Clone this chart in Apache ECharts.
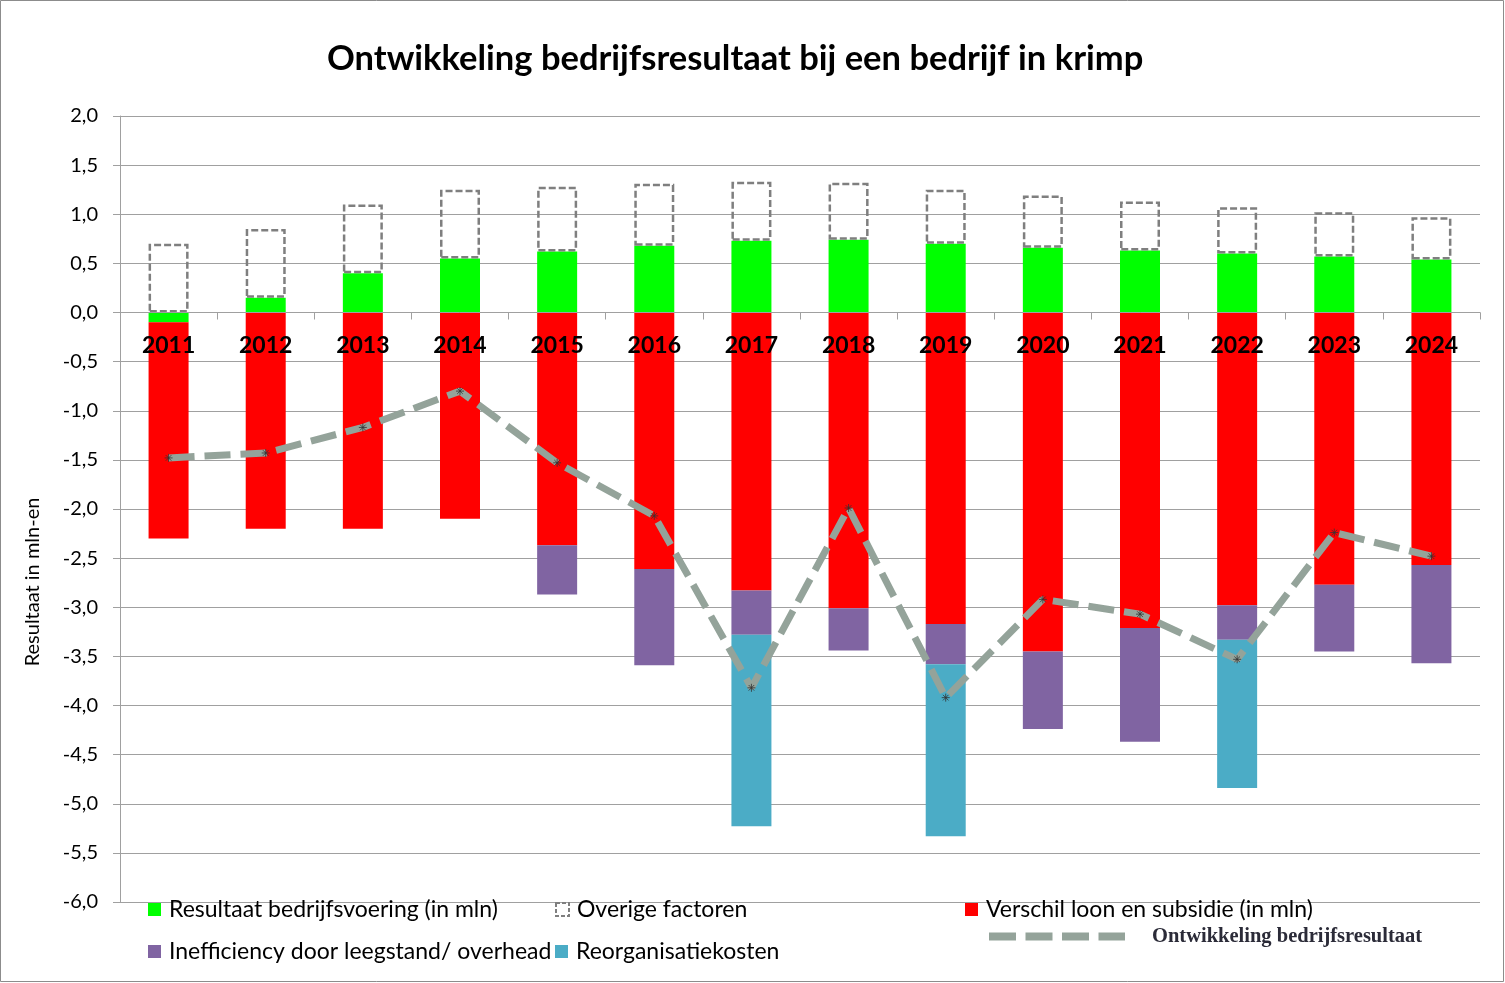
<!DOCTYPE html>
<html>
<head>
<meta charset="utf-8">
<script src="https://cdn.jsdelivr.net/npm/echarts@6/dist/echarts.min.js"></script>
<style>
html,body{margin:0;padding:0;background:#fff;}
#main{width:1505px;height:983px;}
</style>
</head>
<body>
<div id="main"></div>
<script>
const categories = ['2011','2012','2013','2014','2015','2016','2017','2018','2019','2020','2021','2022','2023','2024'];
const resultaat = [-0.10, 0.15, 0.40, 0.55, 0.62, 0.68, 0.73, 0.74, 0.70, 0.66, 0.63, 0.60, 0.57, 0.54];
const overige = [0.70, 0.70, 0.70, 0.70, 0.66, 0.63, 0.60, 0.58, 0.55, 0.53, 0.50, 0.47, 0.45, 0.43];
const verschil = [-2.20, -2.20, -2.20, -2.10, -2.37, -2.61, -2.83, -3.01, -3.17, -3.45, -3.21, -2.98, -2.77, -2.57];
const inefficiency = [null, null, null, null, -0.50, -0.98, -0.45, -0.43, -0.41, -0.79, -1.16, -0.35, -0.68, -1.00];
const reorganisatie = [null, null, null, null, null, null, -1.95, null, -1.75, null, null, -1.51, null, null];
const ontwikkeling = [-1.48, -1.43, -1.17, -0.80, -1.53, -2.07, -3.82, -1.99, -3.92, -2.92, -3.07, -3.53, -2.24, -2.48];
const yMin = -6, yMax = 2, yStep = 0.5;

const names = {
  green: 'Resultaat bedrijfsvoering (in mln)',
  over: 'Overige factoren',
  red: 'Verschil loon en subsidie (in mln)',
  purple: 'Inefficiency door leegstand/ overhead',
  blue: 'Reorganisatiekosten',
  line: 'Ontwikkeling bedrijfsresultaat'
};

const FONT = 'Lato, "Open Sans", sans-serif';
const W = 1505, H = 983;
const gridTop = 116, gridBottom = 81;
const gridH = H - gridTop - gridBottom;
// place the category axis on the zero line
const xOffset = -gridH * (0 - yMin) / (yMax - yMin);

const chart = echarts.init(document.getElementById('main'), null, {renderer: 'canvas'});

const legendText = {color: '#000', fontSize: 23, fontFamily: FONT, padding: [0, 0, 0, 3]};
function sqLegend(name, left, top, extra) {
  return Object.assign({show: true, left: left, top: top, padding: 0, itemWidth: 13, itemHeight: 13,
    icon: 'rect', data: [name], textStyle: legendText, selectedMode: false}, extra || {});
}

const option = {
  backgroundColor: '#fff',
  animation: false,
  title: {
    text: 'Ontwikkeling bedrijfsresultaat bij een bedrijf in krimp',
    left: 322, top: 36,
    textStyle: {fontSize: 34.5, fontWeight: 'bold', color: '#000', fontFamily: FONT}
  },
  grid: {left: 120, right: 25, top: gridTop, bottom: gridBottom, containLabel: false},
  legend: [
    sqLegend(names.green, 148, 898),
    sqLegend(names.over, 555, 898, {itemStyle: {borderType: [4, 2], borderWidth: 2, borderColor: '#7f7f7f'}}),
    sqLegend(names.red, 965, 898),
    sqLegend(names.purple, 148, 940),
    sqLegend(names.blue, 555, 940),
    {show: true, left: 985, top: 926, padding: 0, itemWidth: 136, itemHeight: 16,
      data: [names.line], selectedMode: false,
      lineStyle: {color: '#94a39a', width: 8, type: [27, 9.5], cap: 'butt'},
      itemStyle: {opacity: 0},
      textStyle: {color: '#2b2b38', fontSize: 20.5, fontWeight: 'bold', fontFamily: '"Liberation Serif", serif', padding: [0, 0, 0, 22]}}
  ],
  xAxis: {
    type: 'category',
    data: categories,
    z: 10,
    offset: xOffset,
    axisLine: {onZero: false, lineStyle: {color: '#a0a0a0', width: 1}},
    axisTick: {show: true, length: 7, lineStyle: {color: '#a0a0a0'}},
    axisLabel: {margin: 22, fontSize: 23, fontWeight: 'bold', color: '#000', fontFamily: FONT}
  },
  yAxis: {
    type: 'value',
    min: yMin, max: yMax, interval: yStep,
    axisLine: {show: true, lineStyle: {color: '#a0a0a0', width: 1}},
    axisTick: {show: true, length: 7, lineStyle: {color: '#a0a0a0'}},
    splitLine: {show: true, lineStyle: {color: '#a0a0a0', width: 1}},
    axisLabel: {margin: 22, fontSize: 20, color: '#000', fontFamily: FONT,
      formatter: v => v.toFixed(1).replace('.', ',')}
  },
  graphic: [
    {type: 'rect', shape: {x: 0.5, y: 0.5, width: W - 2, height: H - 2}, style: {fill: 'none', stroke: '#8c8c8c', lineWidth: 1}, silent: true},
    {type: 'text', x: 33, y: 582, rotation: Math.PI / 2,
      style: {text: 'Resultaat in mln-en', fontSize: 20, fontFamily: FONT, fill: '#000', textAlign: 'center', textVerticalAlign: 'middle'}}
  ],
  series: [
    {name: names.green, type: 'bar', stack: 'a', barWidth: 40, data: resultaat, itemStyle: {color: '#00ff00'}},
    {name: names.over, type: 'bar', stack: 'a', barWidth: 40, data: overige,
      itemStyle: {color: 'rgba(255,255,255,0)', borderColor: '#7f7f7f', borderWidth: 2.5, borderType: [7, 3]}},
    {name: names.red, type: 'bar', stack: 'a', barWidth: 40, data: verschil, itemStyle: {color: '#ff0000'}},
    {name: names.purple, type: 'bar', stack: 'a', barWidth: 40, data: inefficiency, itemStyle: {color: '#8064a2'}},
    {name: names.blue, type: 'bar', stack: 'a', barWidth: 40, data: reorganisatie, itemStyle: {color: '#4bacc6'}},
    {name: names.line, type: 'line', data: ontwikkeling, symbol: 'none', z: 5,
      lineStyle: {color: '#94a39a', width: 7, type: [26, 10], cap: 'butt'}, itemStyle: {color: '#94a39a'}},
    {name: 'markers', type: 'scatter', data: ontwikkeling, z: 6, silent: true,
      symbol: 'path://M0,5L10,5M5,0L5,10M1.5,1.5L8.5,8.5M8.5,1.5L1.5,8.5', symbolSize: 8,
      itemStyle: {color: 'none', borderColor: '#333', borderWidth: 1}}
  ]
};
chart.setOption(option);
</script>
</body>
</html>
